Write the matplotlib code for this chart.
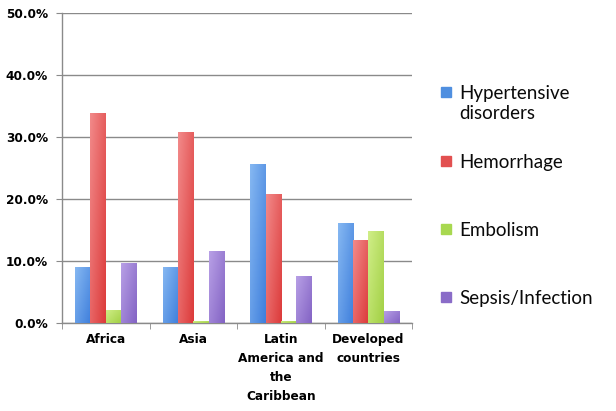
import matplotlib
matplotlib.use("Agg")
import matplotlib.pyplot as plt
import numpy as np
from matplotlib.patches import Rectangle
from matplotlib.colors import to_rgb

categories = ["Africa", "Asia", "Latin\nAmerica and\nthe\nCaribbean", "Developed\ncountries"]
series_names = ["Hypertensive\ndisorders", "Hemorrhage", "Embolism", "Sepsis/Infection"]
hypertensive = [9.0, 9.1, 25.7, 16.1]
hemorrhage = [33.9, 30.8, 20.9, 13.4]
embolism = [2.1, 0.3, 0.4, 14.8]
sepsis = [9.7, 11.6, 7.6, 2.0]
yticks = [0, 10, 20, 30, 40, 50]

values = [hypertensive, hemorrhage, embolism, sepsis]
# (light, dark) gradient stops for each series
shades = [("#86b8f2", "#3f7fdc"), ("#f28a8a", "#dc3a3a"),
          ("#d0ee88", "#a2d044"), ("#b8a0e6", "#8363c4")]
legend_colors = ["#4f8fe0", "#e25050", "#a8d850", "#8a6cc8"]

plt.rcParams["font.family"] = ["Lato", "DejaVu Sans"]

fig = plt.figure(figsize=(6.16, 4.11), dpi=100)
ax = fig.add_axes([0.1006, 0.214, 0.5685, 0.754])

x = np.arange(len(categories))
bw = 0.175
offsets = (np.arange(4) - 1.5) * bw


def bar_gradient(light, dark):
    """RGB image: lighter toward the upper left, deeper toward the lower right."""
    l, d = np.array(to_rgb(light)), np.array(to_rgb(dark))
    u = np.linspace(0, 1, 32)[None, :]
    v = np.linspace(0, 1, 64)[:, None]  # 0 at top row
    t = np.clip(0.55 * u + 0.45 * v, 0, 1)[..., None]
    return l * (1 - t) + d * t


for s, vals in enumerate(values):
    img = bar_gradient(*shades[s])
    bars = ax.bar(x + offsets[s], vals, width=bw, color=legend_colors[s],
                  linewidth=0, zorder=2)
    for b in bars:
        x0, y0 = b.get_x(), b.get_y()
        w, h = b.get_width(), b.get_height()
        im = ax.imshow(img, aspect="auto", origin="upper",
                       extent=[x0, x0 + w, y0, y0 + h], zorder=3,
                       interpolation="bilinear")
        im.set_clip_path(b)

ax.set_xlim(-0.5, len(categories) - 0.5)
ax.set_ylim(0, 50)
ax.set_yticks(yticks)
ax.set_yticklabels([f"{t:.1f}%" for t in yticks], fontsize=8.7, fontweight="bold",
                   family=["DejaVu Sans"])
ax.yaxis.grid(True, color="#8a8a8a", linewidth=1.0, zorder=0)
ax.set_axisbelow(True)

ax.set_xticks(x)
ax.set_xticklabels(categories, fontsize=8.7, fontweight="bold",
                   family=["DejaVu Sans"], linespacing=1.6, va="top")
ax.tick_params(axis="x", length=0, pad=7)
ax.set_xticks(np.arange(len(categories) + 1) - 0.5, minor=True)
ax.tick_params(axis="x", which="minor", length=4, color="#8a8a8a")
ax.tick_params(axis="y", length=4, color="#8a8a8a", pad=6)

for side in ["top", "right"]:
    ax.spines[side].set_visible(False)
for side in ["left", "bottom"]:
    ax.spines[side].set_color("#8a8a8a")
    ax.spines[side].set_linewidth(1.0)

# Legend drawn as squares and labels on the right
legend_y = [93, 162, 230, 298]
for color, name, yy in zip(legend_colors, series_names, legend_y):
    fy = 1 - yy / 411
    fig.patches.append(Rectangle((441 / 616, fy - 4 / 411), 10 / 616, 10 / 411,
                                 transform=fig.transFigure, color=color))
    fig.text(459 / 616, fy + 8 / 411, name, fontsize=13.5, va="top", ha="left",
             color="#0a0a0a", linespacing=1.2)

fig.savefig("out.png", dpi=100)
